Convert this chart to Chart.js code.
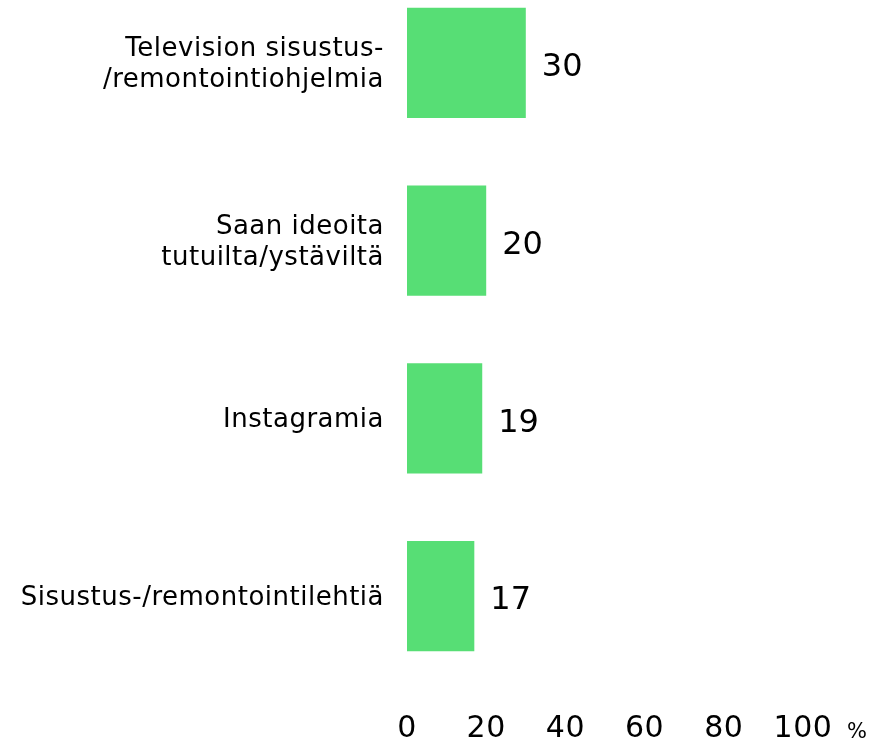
<!DOCTYPE html>
<html lang="fi">
<head>
  <meta charset="UTF-8">
  <title>Sisustusideat</title>
  <script src="https://cdn.jsdelivr.net/npm/chart.js"></script>
  <style>
    html, body { margin: 0; padding: 0; background: #fff; overflow: hidden; }
    .wrap { position: relative; width: 871px; height: 743px; overflow: hidden; }
    /* chart is shifted up a bit, top band is cut like in the original */
    .wrap canvas { position: absolute; left: 0; top: -26px; }
  </style>
</head>
<body>
  <div class="wrap">
    <canvas id="chart" width="871" height="769"></canvas>
  </div>

  <script>
    const categories = [
      ['Television sisustus-', '/remontointiohjelmia'],
      ['Saan ideoita', 'tutuilta/ystäviltä'],
      'Instagramia',
      'Sisustus-/remontointilehtiä'
    ];
    const values = [30, 20, 19, 17];
    const tickLabels = ['0', '20', '40', '60', '80', '100'];
    const unitLabel = '%';

    const FONT = '"DejaVu Sans", Verdana, sans-serif';

    // slightly spaced letters, the original font runs wide
    const spacing = {
      id: 'spacing',
      beforeDraw(chart) { chart.ctx.letterSpacing = '0.5px'; }
    };

    // value labels at bar ends + the % sign after the axis
    const extraText = {
      id: 'extraText',
      afterDatasetsDraw(chart) {
        const ctx = chart.ctx;
        const meta = chart.getDatasetMeta(0);
        ctx.save();
        ctx.letterSpacing = '0px';
        ctx.fillStyle = '#000';
        ctx.font = '32px ' + FONT;
        ctx.textAlign = 'left';
        ctx.textBaseline = 'middle';
        meta.data.forEach((bar, i) => {
          ctx.fillText(String(values[i]), bar.x + 16, bar.y + 5);
        });
        const xs = chart.scales.x;
        ctx.font = '21px ' + FONT;
        ctx.fillText(unitLabel, xs.right + 44, 759);
        ctx.restore();
      }
    };

    new Chart(document.getElementById('chart'), {
      type: 'bar',
      data: {
        labels: categories,
        datasets: [{
          data: values,
          backgroundColor: '#57DE75',
          borderWidth: 0,
          barPercentage: 1,
          categoryPercentage: 0.62
        }]
      },
      options: {
        indexAxis: 'y',
        responsive: false,
        animation: false,
        layout: { padding: { top: 0, right: 68, bottom: 0, left: 0 } },
        plugins: {
          legend: { display: false },
          tooltip: { enabled: false }
        },
        scales: {
          x: {
            min: 0,
            max: 100,
            grid: { display: false, drawTicks: false },
            border: { display: false },
            afterFit(scale) {
              scale.height = 58;
              scale.paddingLeft = 0;
              scale.paddingRight = 0;
            },
            afterBuildTicks(scale) {
              scale.ticks = tickLabels.map(t => ({ value: Number(t) }));
            },
            ticks: {
              color: '#000',
              padding: 26,
              maxRotation: 0,
              font: { family: FONT, size: 30 },
              callback: (v, i) => tickLabels[i]
            }
          },
          y: {
            grid: { display: false, drawTicks: false },
            border: { display: false },
            afterFit(scale) {
              scale.width = 407;
              scale.paddingTop = 0;
              scale.paddingBottom = 0;
            },
            ticks: {
              color: '#000',
              padding: 23,
              labelOffset: 2,
              font: { family: FONT, size: 26, lineHeight: 1.18 }
            }
          }
        }
      },
      plugins: [spacing, extraText]
    });
  </script>
</body>
</html>
